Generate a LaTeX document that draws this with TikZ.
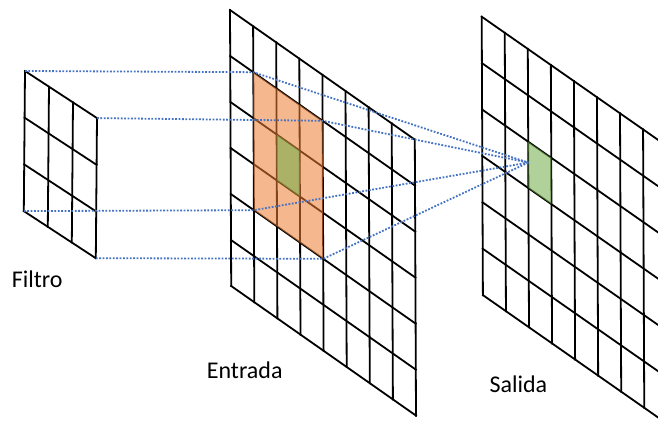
\documentclass[tikz,border=0pt]{standalone}
\usepackage{fontspec}
\setmainfont{Carlito}
\usepackage{tikz}

\definecolor{naranja}{HTML}{ED7D31}
\definecolor{verde}{HTML}{70AD47}
\definecolor{azul}{HTML}{4472C4}

\begin{document}
\begin{tikzpicture}[x=1pt,y=-1pt,
    rejilla/.style={black, line width=1.8pt, line cap=rect},
    punteada/.style={azul, line width=1.8pt, dash pattern=on 1.8pt off 1.6pt},
    etiqueta/.style={anchor=base west, inner sep=0pt, font=\fontsize{24}{28}\selectfont},
    % one cell of each grid is x wide and y tall, slanted downwards
    filtro/.style={shift={(25pt,-71pt)}, x={(24pt,-15.7pt)}, y={(-0.4pt,-46.7pt)}},
    entrada/.style={shift={(230pt,-10pt)}, x={(23.1pt,-16.2pt)}, y={(0.2pt,-46pt)}},
    salida/.style={shift={(481.7pt,-16.7pt)}, x={(23.05pt,-16.1pt)}, y={(0.2pt,-46.4pt)}}]
  \useasboundingbox (0,0) rectangle (658,422);
  \clip (0,0) rectangle (658,422);

  % filtro 3x3
  \begin{scope}[filtro]
    \foreach \i in {0,...,3} \draw[rejilla] (\i,0) -- (\i,3);
    \foreach \j in {0,...,3} \draw[rejilla] (0,\j) -- (3,\j);
    \coordinate (f1) at (0,0);
    \coordinate (f2) at (3,0);
    \coordinate (f3) at (0,3);
    \coordinate (f4) at (3,3);
  \end{scope}

  % entrada 8x6, with the 3x3 window shaded
  \begin{scope}[entrada]
    \foreach \i in {0,...,8} \draw[rejilla] (\i,0) -- (\i,6);
    \foreach \j in {0,...,6} \draw[rejilla] (0,\j) -- (8,\j);
    \fill[naranja, opacity=0.55] (1,1) -- (4,1) -- (4,4) -- (1,4) -- cycle;
    \fill[verde, opacity=0.55] (2,2) -- (3,2) -- (3,3) -- (2,3) -- cycle;
    \coordinate (e1) at (1,1);
    \coordinate (e2) at (4,1);
    \coordinate (e3) at (1,4);
    \coordinate (e4) at (4,4);
  \end{scope}

  % salida 8x6
  \begin{scope}[salida]
    \foreach \i in {0,...,8} \draw[rejilla] (\i,0) -- (\i,6);
    \foreach \j in {0,...,6} \draw[rejilla] (0,\j) -- (8,\j);
    \fill[verde, opacity=0.55] (2,2) -- (3,2) -- (3,3) -- (2,3) -- cycle;
    \coordinate (s) at (2,2.45);
  \end{scope}

  % proyecciones
  \draw[punteada] (f1) -- (e1) -- (s);
  \draw[punteada] (f2) -- (e2) -- (s);
  \draw[punteada] (f3) -- (e3) -- (s);
  \draw[punteada] (f4) -- (e4) -- (s);

  \node[etiqueta] (filtro) at (11.7,287.7) {Filtro};
  \node[etiqueta] (entrada) at (206.7,378.3) {Entrada};
  \node[etiqueta] (salida) at (489.3,392.7) {Salida};
\end{tikzpicture}
\end{document}
